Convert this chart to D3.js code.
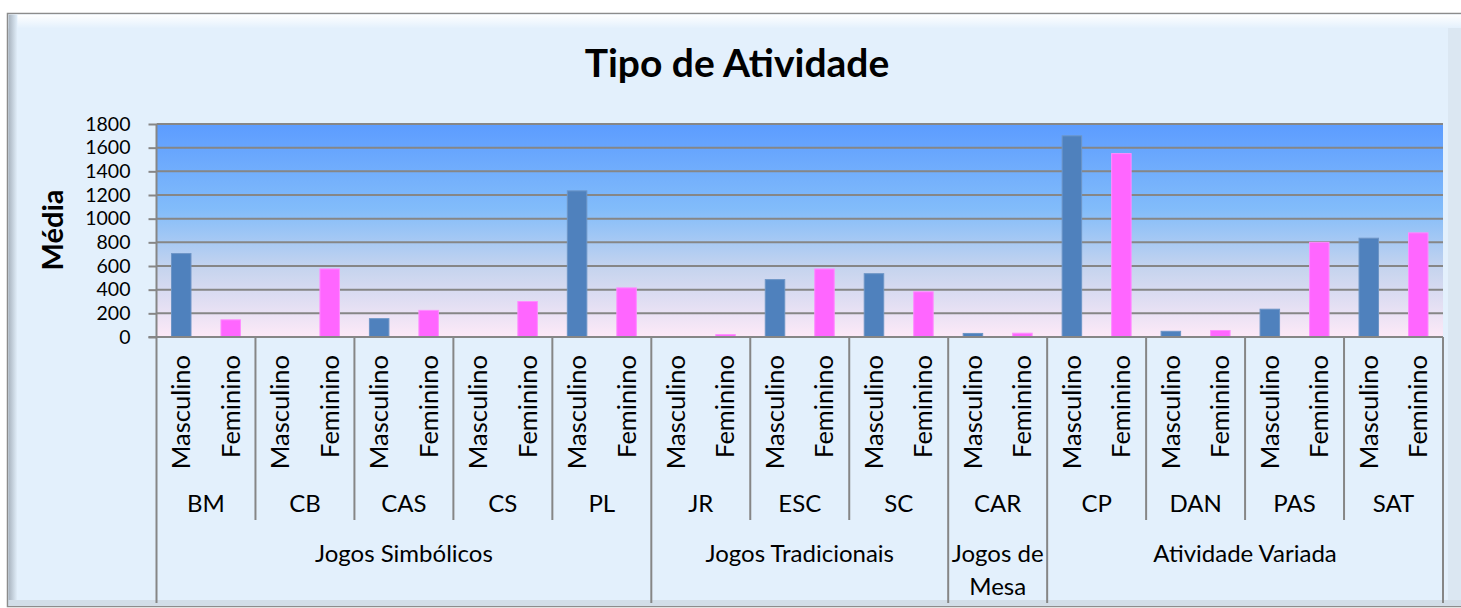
<!DOCTYPE html>
<html>
<head>
<meta charset="utf-8">
<script src="https://cdn.jsdelivr.net/npm/d3@7"></script>
<style>
  html, body { margin: 0; padding: 0; background: #fff; }
  svg { display: block; font-family: Lato, "Open Sans", sans-serif; }
</style>
</head>
<body>
<svg id="chart" width="1461" height="608"></svg>
<script>
// data
const categories = ['BM', 'CB', 'CAS', 'CS', 'PL', 'JR', 'ESC', 'SC', 'CAR', 'CP', 'DAN', 'PAS', 'SAT'];
const groupNames = ['Jogos Simbólicos', 'Jogos Tradicionais', 'Jogos de Mesa', 'Atividade Variada'];
const groupSizes = [5, 3, 1, 4];
const sexes = ['Masculino', 'Feminino'];
const masculino = [705, 0, 155, 0, 1235, 0, 485, 535, 30, 1700, 48, 235, 835];
const feminino  = [145, 575, 225, 300, 415, 20, 575, 382, 32, 1550, 55, 800, 880];
const yTicks = [0, 200, 400, 600, 800, 1000, 1200, 1400, 1600, 1800];
const sexColors = ['#4F81BD', '#FF66FF'];

const svg = d3.select('#chart');
const margin = { top: 124, right: 18, bottom: 271, left: 156.5 };
const W = 1461, H = 608;
const plotW = W - margin.left - margin.right;
const plotH = H - margin.top - margin.bottom;
const gridCol = '#868686';

const defs = svg.append('defs');
const bg = defs.append('linearGradient').attr('id', 'plotBg')
  .attr('x1', 0).attr('y1', 0).attr('x2', 0).attr('y2', 1);
[['0%', '#5C9CFF'], ['40%', '#82BCFA'], ['68%', '#C6D4EE'], ['100%', '#FDE9F7']]
  .forEach(s => bg.append('stop').attr('offset', s[0]).attr('stop-color', s[1]));
const topBev = defs.append('linearGradient').attr('id', 'topBev')
  .attr('x1', 0).attr('y1', 0).attr('x2', 0).attr('y2', 1);
topBev.append('stop').attr('offset', '0%').attr('stop-color', '#ffffff');
topBev.append('stop').attr('offset', '100%').attr('stop-color', '#E3F0FC');
const leftBev = defs.append('linearGradient').attr('id', 'leftBev');
leftBev.append('stop').attr('offset', '0%').attr('stop-color', '#a9b4bf');
leftBev.append('stop').attr('offset', '100%').attr('stop-color', '#E3F0FC');

// chart frame
svg.append('rect').attr('x', 7.5).attr('y', 13.5).attr('width', 1470).attr('height', 593)
  .attr('fill', '#E3F0FC').attr('stroke', '#8c8c8c').attr('stroke-width', 1.5);
svg.append('rect').attr('x', 8.5).attr('y', 14.5).attr('width', 1460).attr('height', 14)
  .attr('fill', 'url(#topBev)');
svg.append('rect').attr('x', 8.5).attr('y', 14.5).attr('width', 9).attr('height', 591)
  .attr('fill', 'url(#leftBev)');
svg.append('rect').attr('x', 8.5).attr('y', 600).attr('width', 1460).attr('height', 6)
  .attr('fill', '#d2dde8');
svg.append('rect').attr('x', 1448).attr('y', 28).attr('width', 13).attr('height', 572)
  .attr('fill', '#dbe7f2');

const g = svg.append('g').attr('transform', `translate(${margin.left},${margin.top})`);

const x = d3.scaleBand().domain(categories).range([0, plotW]);
const xs = d3.scaleBand().domain(sexes).range([0, x.bandwidth()])
  .paddingInner(0.606).paddingOuter(0.303);
const y = d3.scaleLinear().domain([0, 1800]).range([plotH, 0]);

g.append('rect').attr('width', plotW).attr('height', plotH).attr('fill', 'url(#plotBg)');

// gridlines
g.append('g').selectAll('line').data(yTicks.filter(d => d > 0)).enter().append('line')
  .attr('x1', 0).attr('x2', plotW).attr('y1', d => y(d)).attr('y2', d => y(d))
  .attr('stroke', gridCol).attr('stroke-width', 2);

// bars
const rows = categories.map((c, i) => ({ cat: c, vals: [masculino[i], feminino[i]] }));
const cat = g.selectAll('.cat').data(rows).enter().append('g')
  .attr('transform', d => `translate(${x(d.cat)},0)`);
cat.selectAll('rect').data(d => d.vals.map((v, j) => ({ sex: sexes[j], v, j })))
  .enter().filter(d => d.v > 0).append('rect')
  .attr('x', d => xs(d.sex)).attr('width', xs.bandwidth())
  .attr('y', d => y(d.v)).attr('height', d => plotH - y(d.v))
  .attr('fill', d => sexColors[d.j])
  .attr('stroke', d => d.j ? '#ff8cff' : '#6d95c6').attr('stroke-width', 1);

// y axis
const yAxis = g.append('g').call(d3.axisLeft(y).tickValues(yTicks)
  .tickFormat(d3.format('d')).tickSize(8).tickPadding(18));
yAxis.select('.domain').remove();
yAxis.selectAll('.tick line').attr('stroke', gridCol).attr('stroke-width', 2);
yAxis.selectAll('.tick text').attr('font-size', 19.5).attr('fill', '#000')
  .attr('font-family', 'Lato, sans-serif');
g.append('line').attr('x1', 0).attr('x2', 0).attr('y1', 0).attr('y2', H - margin.top - 5)
  .attr('stroke', gridCol).attr('stroke-width', 2);
g.append('line').attr('x1', -8).attr('x2', plotW).attr('y1', plotH).attr('y2', plotH)
  .attr('stroke', gridCol).attr('stroke-width', 2);

// category axis: sex labels
const lab = g.append('g').attr('transform', `translate(0,${plotH})`);
rows.forEach(r => {
  sexes.forEach(s => {
    lab.append('text')
      .attr('transform', `translate(${x(r.cat) + xs(s) + xs.bandwidth() / 2},18) rotate(-90)`)
      .attr('text-anchor', 'end').attr('dy', '0.35em')
      .attr('font-size', 25.5).text(s);
  });
  lab.append('text').attr('x', x(r.cat) + x.bandwidth() / 2).attr('y', 175)
    .attr('text-anchor', 'middle').attr('font-size', 24).text(r.cat);
});

// separators between categories and groups
const groupEnds = d3.cumsum(groupSizes);
categories.forEach((c, i) => {
  const isGroupEnd = groupEnds.includes(i + 1);
  lab.append('line').attr('x1', x(c) + x.bandwidth()).attr('x2', x(c) + x.bandwidth())
    .attr('y1', 0).attr('y2', isGroupEnd ? H - margin.top - plotH - 5 : 183)
    .attr('stroke', gridCol).attr('stroke-width', 2);
});

// group labels, wrapped to the width of their span
let start = 0;
groupNames.forEach((name, gi) => {
  const x0 = x(categories[start]);
  const x1 = x(categories[start + groupSizes[gi] - 1]) + x.bandwidth();
  start += groupSizes[gi];
  const t = lab.append('text').attr('x', (x0 + x1) / 2).attr('y', 225)
    .attr('text-anchor', 'middle').attr('font-size', 24);
  const words = name.split(' ');
  let line = [], tspan = t.append('tspan').attr('x', (x0 + x1) / 2);
  words.forEach(w => {
    line.push(w);
    tspan.text(line.join(' '));
    if (tspan.node().getComputedTextLength() > (x1 - x0) - 4 && line.length > 1) {
      line.pop();
      tspan.text(line.join(' '));
      line = [w];
      tspan = t.append('tspan').attr('x', (x0 + x1) / 2).attr('dy', 33).text(w);
    }
  });
});

// titles
svg.append('text').attr('x', 737).attr('y', 77).attr('text-anchor', 'middle')
  .attr('font-size', 39).attr('font-weight', 'bold').text('Tipo de Atividade');
svg.append('text').attr('transform', 'translate(63,230) rotate(-90)')
  .attr('text-anchor', 'middle').attr('font-size', 29).attr('font-weight', 'bold').text('Média');
</script>
</body>
</html>
